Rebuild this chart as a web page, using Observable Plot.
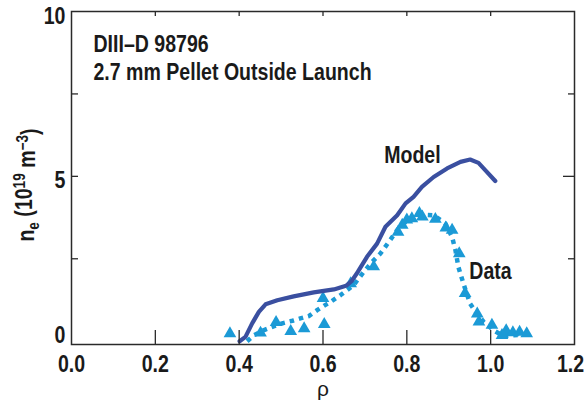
<!DOCTYPE html>
<html>
<head>
<meta charset="utf-8">
<script src="https://cdn.jsdelivr.net/npm/d3@7"></script>
<script src="https://cdn.jsdelivr.net/npm/@observablehq/plot@0.6"></script>
<style>
  html, body { margin: 0; padding: 0; background: #fff; }
  #chart { width: 585px; height: 402px; }
</style>
</head>
<body>
<div id="chart"></div>
<script>
// ---- data ----
const modelRho = [0.401,0.415,0.431,0.447,0.463,0.491,0.530,0.578,0.626,0.655,0.668,0.683,0.705,0.729,0.749,0.777,0.797,0.816,0.836,0.864,0.896,0.928,0.951,0.971,0.987,1.011];
const modelNe  = [0.00,0.13,0.54,0.89,1.12,1.24,1.36,1.48,1.57,1.68,1.82,2.10,2.56,2.96,3.47,3.82,4.18,4.38,4.68,4.98,5.24,5.44,5.51,5.41,5.19,4.86];

const dataRho = [0.378,0.451,0.488,0.523,0.555,0.603,0.600,0.666,0.721,0.779,0.789,0.800,0.812,0.830,0.837,0.868,0.893,0.908,0.925,0.939,0.968,0.972,1.003,1.027,1.037,1.053,1.069,1.086];
const dataNe  = [0.23,0.25,0.57,0.30,0.38,0.51,1.30,1.75,2.26,3.31,3.52,3.68,3.72,3.88,3.77,3.70,3.44,3.37,2.66,1.45,0.83,0.59,0.49,0.18,0.32,0.26,0.28,0.23];

const fitRho = [0.419,0.435,0.458,0.482,0.505,0.527,0.546,0.566,0.586,0.603,0.618,0.642,0.673,0.697,0.717,0.737,0.757,0.777,0.801,0.832,0.864,0.892,0.908,0.916,0.923,0.935,0.951,0.967,0.983,1.007,1.031,1.055,1.080];
const fitNe  = [0.00,0.18,0.33,0.45,0.55,0.62,0.69,0.76,0.94,1.08,1.19,1.40,1.70,2.10,2.40,2.66,3.01,3.37,3.67,3.84,3.82,3.57,3.16,2.76,2.25,1.75,1.14,0.84,0.59,0.33,0.15,0.18,0.20];

const xTicks = [0.0,0.2,0.4,0.6,0.8,1.0,1.2];
const xInnerTicks = [0.2,0.4,0.6,0.8,1.0];
const yLabelTicks = [0,5,10];
const yMinorTicks = [2.5,5,7.5];
const yRightShort = [2.5,7.5];
const yRightLong = [5];

const annotationLines = ["DIII–D 98796", "2.7 mm Pellet Outside Launch"];
const seriesLabels = [
  {text: "Model", rho: 0.746, ne: 5.64},
  {text: "Data",  rho: 0.949, ne: 2.10}
];
const xLabel = "ρ";

// ---- build tables ----
const model = modelRho.map((r,i) => ({rho: r, ne: modelNe[i]}));
const data  = dataRho.map((r,i) => ({rho: r, ne: dataNe[i]}));
const fit   = fitRho.map((r,i) => ({rho: r, ne: fitNe[i]}));

// ---- layout ----
const W = 585, H = 402;
const mL = 71, mR = 11, mT = 11, mB = 58;
const plotW = W - mL - mR, plotH = H - mT - mB;
const FONT = "'Liberation Sans',Arial,Helvetica,sans-serif";
const FS = 23;
const SQUEEZE = 0.85; // narrow-font look
const modelColor = "#3a4fa0";
const dataColor = "#1b9ad6";
const frameColor = "#2a2a2a";
const textColor = "#1a1a1a";
const yDy = {0: -6, 5: 4, 10: 5};
const boldText = {fontSize: FS, fontWeight: "bold", fontFamily: FONT, fill: textColor, className: "narrow"};
const lastX = xTicks[xTicks.length - 1];

const marks = [
  Plot.line(fit, {x: "rho", y: "ne", stroke: dataColor, strokeWidth: 4.5, strokeDasharray: "4.5,5", strokeLinecap: "butt"}),
  Plot.dot(data, {x: "rho", y: "ne", symbol: "triangle", r: 4.7, fill: dataColor, stroke: "none"}),
  Plot.line(model, {x: "rho", y: "ne", stroke: modelColor, strokeWidth: 4.2, strokeLinejoin: "round", strokeLinecap: "round"}),
  Plot.frame({stroke: frameColor, strokeWidth: 1.5}),
  Plot.tickX(xInnerTicks, {x: d => d, stroke: frameColor, strokeWidth: 1.3, insetTop: plotH - 14}),
  Plot.tickX(xInnerTicks, {x: d => d, stroke: frameColor, strokeWidth: 1.3, insetBottom: plotH - 5}),
  Plot.tickY(yMinorTicks, {y: d => d, stroke: frameColor, strokeWidth: 1.3, insetRight: plotW - 7}),
  Plot.tickY(yRightShort, {y: d => d, stroke: frameColor, strokeWidth: 1.3, insetLeft: plotW - 6}),
  Plot.tickY(yRightLong, {y: d => d, stroke: frameColor, strokeWidth: 1.3, insetLeft: plotW - 11}),
  Plot.text(xTicks.filter(d => d !== lastX), {x: d => d, text: d => d3.format(".1f")(d), frameAnchor: "bottom", lineAnchor: "top", dy: 11, ...boldText}),
  Plot.text([lastX], {x: d => d, text: d => d3.format(".1f")(d), frameAnchor: "bottom", lineAnchor: "top", dy: 11, dx: -4, ...boldText}),
  Plot.text([xLabel], {text: d => d, frameAnchor: "bottom", lineAnchor: "middle", dy: 45,
    fontSize: 21, fontFamily: FONT, fill: textColor}),
  ...yLabelTicks.map(v => Plot.text([v], {y: d => d, text: d => String(d), frameAnchor: "left", textAnchor: "end",
    lineAnchor: "middle", dx: -6, dy: yDy[v], ...boldText})),
  ...annotationLines.map((t, i) => Plot.text([t], {text: d => d, frameAnchor: "top-left", textAnchor: "start", lineAnchor: "top",
    dx: 22, dy: 24 + i * 28, ...boldText})),
  Plot.text(seriesLabels, {x: "rho", y: "ne", text: "text", textAnchor: "start", lineAnchor: "middle", ...boldText})
];

const chart = Plot.plot({
  width: W, height: H,
  marginLeft: mL, marginRight: mR, marginTop: mT, marginBottom: mB,
  x: {domain: [0, 1.2], axis: null},
  y: {domain: [-0.1, 10], axis: null},
  style: {background: "#fff", fontFamily: FONT},
  marks
});

const svg = d3.select(chart);
const lab = svg.append("text")
  .attr("class", "narrow-label")
  .attr("transform", "translate(34,185) rotate(-90)")
  .attr("text-anchor", "middle")
  .attr("font-family", FONT)
  .attr("font-weight", "bold")
  .attr("font-size", FS)
  .attr("fill", textColor);
lab.append("tspan").text("n");
lab.append("tspan").attr("dy", "0.3em").attr("font-size", "16").text("e");
lab.append("tspan").attr("dy", "-0.3em").text(" (10");
lab.append("tspan").attr("dy", "-0.45em").attr("font-size", "16").text("19");
lab.append("tspan").attr("dy", "0.45em").text(" m");
lab.append("tspan").attr("dy", "-0.45em").attr("font-size", "16").text("−3");
lab.append("tspan").attr("dy", "0.45em").text(")");

document.getElementById("chart").appendChild(chart);

// condense bold texts horizontally to mimic Helvetica Narrow
chart.querySelectorAll("g.narrow text, text.narrow-label").forEach(t => {
  const len = t.getComputedTextLength();
  if (len > 0) {
    t.setAttribute("textLength", (len * SQUEEZE).toFixed(2));
    t.setAttribute("lengthAdjust", "spacingAndGlyphs");
  }
});
</script>
</body>
</html>
